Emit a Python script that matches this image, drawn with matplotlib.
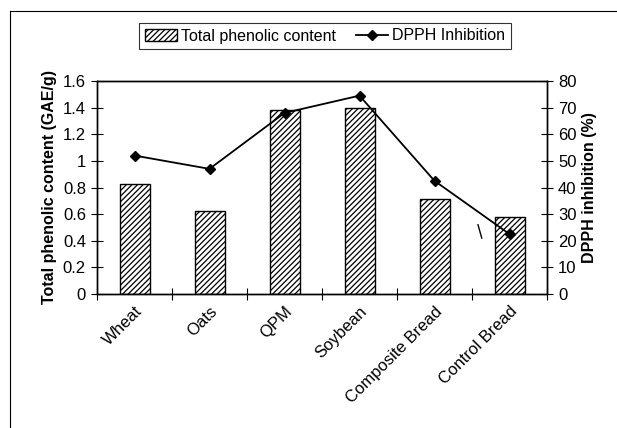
import matplotlib.pyplot as plt
from matplotlib.lines import Line2D
import numpy as np

plt.rcParams["font.family"] = ["Liberation Sans", "DejaVu Sans"]
plt.rcParams["hatch.linewidth"] = 0.9

categories = ["Wheat", "Oats", "QPM", "Soybean", "Composite Bread", "Control Bread"]
phenolic = [0.83, 0.62, 1.38, 1.40, 0.71, 0.58]
dpph = [52, 47, 68, 74.5, 42.5, 22.5]

figure = plt.figure(figsize=(6.17, 4.28), dpi=100)
axis = figure.add_axes([97 / 617, 1 - 294 / 428, 450 / 617, 213 / 428])

x = np.arange(len(categories))
axis.bar(x, phenolic, width=0.4, color="white", edgecolor="black",
         hatch="//////", linewidth=1.0, zorder=2, label="Total phenolic content")
axis.set_xlim(-0.5, len(categories) - 0.5)
axis.set_ylim(0, 1.6)
axis.set_yticks(np.arange(0, 1.61, 0.2))
axis.set_yticklabels(["0", "0.2", "0.4", "0.6", "0.8", "1", "1.2", "1.4", "1.6"])
axis.set_xticks(np.arange(-0.5, len(categories), 1.0))
axis.set_xticklabels([])
axis.set_xticks(x, minor=True)
axis.set_xticklabels(categories, minor=True, rotation=45, ha="right",
                     rotation_mode="anchor", fontsize=12)
axis.tick_params(axis="x", which="minor", length=0, pad=7)
axis.tick_params(axis="x", which="major", direction="inout", length=8)
axis.tick_params(axis="y", direction="inout", length=8, labelsize=12, pad=4)
axis.set_ylabel("Total phenolic content (GAE/g)", fontsize=11.5, fontweight="bold",
                labelpad=4)

right = axis.twinx()
right.plot(x, dpph, color="black", marker="D", markersize=5, linewidth=1.3, zorder=3)
right.set_ylim(0, 80)
right.set_yticks(np.arange(0, 81, 10))
right.tick_params(axis="y", direction="inout", length=8, labelsize=12, pad=4)
right.set_ylabel("DPPH inhibition (%)", fontsize=11.5, fontweight="bold", labelpad=4)
right.plot([4.58, 4.63], [26, 21], color="black", linewidth=1.0)

for spine in list(axis.spines.values()) + list(right.spines.values()):
    spine.set_linewidth(1.0)

handles = [
    plt.Rectangle((0, 0), 1, 1, facecolor="white", edgecolor="black", hatch="//////"),
    Line2D([0], [0], color="black", marker="D", markersize=5, linewidth=1.3),
]
legend = figure.legend(handles, ["Total phenolic content", "DPPH Inhibition"],
                       loc="center", bbox_to_anchor=(325 / 617, 1 - 36 / 428), ncol=2,
                       fontsize=11.5, frameon=True, fancybox=False, handlelength=2.0,
                       handletextpad=0.3, columnspacing=1.2, borderpad=0.35)
legend.get_frame().set_edgecolor("black")
legend.get_frame().set_linewidth(0.8)

figure.add_artist(Line2D([10 / 617, 10 / 617], [0, 1 - 11 / 428], color="black", linewidth=0.8))
figure.add_artist(Line2D([10 / 617, 1], [1 - 11 / 428, 1 - 11 / 428], color="black", linewidth=0.8))

figure.savefig("out.png", dpi=100)
plt.close(figure)
